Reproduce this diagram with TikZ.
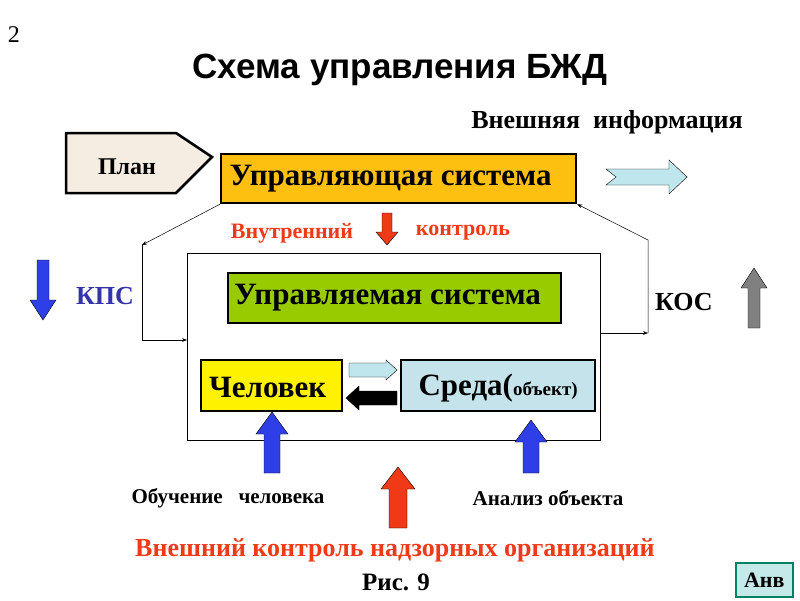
\documentclass[tikz,border=0pt]{standalone}
\usepackage{fontspec}
\setmainfont{Liberation Serif}
\newfontfamily\titlefont{Liberation Sans}
\usetikzlibrary{arrows.meta}
\definecolor{kred}{HTML}{F03A17}
\definecolor{kblue}{HTML}{2F3FE8}
\definecolor{pale}{HTML}{BFE6EC}
\tikzset{
 box/.style={draw=black,line width=2.2pt,inner sep=0pt,anchor=north west},
 lab/.style={font=\bfseries\fontsize{22}{24}\selectfont},
 big/.style={font=\bfseries\fontsize{31}{33}\selectfont},
 arrfill/.style={draw=black,line width=0.4pt,fill=#1},
 conn/.style={draw=black,line width=0.5pt,-{Stealth[length=5pt]}},
}
\newcommand\blkarr[8]{\filldraw[arrfill=#8,shift={(#1,#2)},rotate=#3] (0,-#5) -- (#4-#7,-#5) -- (#4-#7,-#6) -- (#4,0) -- (#4-#7,#6) -- (#4-#7,#5) -- (0,#5) -- cycle;}
\begin{document}
\begin{tikzpicture}[x=1pt,y=-1pt]
\useasboundingbox[fill=white] (0,0) rectangle (800,600);
\node (num) at (14,35) {\fontsize{24}{26}\selectfont 2};
\node (title) at (400,70) {\titlefont\bfseries\fontsize{35}{38}\selectfont Схема управления БЖД};
\node[lab,font=\bfseries\fontsize{26}{28}\selectfont] (ext) at (607,122) {Внешняя\ \ информация};
% plan
\filldraw[fill=brown!15!white,draw=black,line width=2.5pt] (66,133) -- (176,133) -- (212,157) -- (176,193) -- (66,193) -- cycle;
\node[lab,font=\bfseries\fontsize{24}{26}\selectfont] (plan) at (127,167) {План};
% control system
\node[box,fill={rgb,255:red,253;green,192;blue,16},minimum width=355pt,minimum height=49pt] (us) at (220,153) {};
\node[big] at (us.center) [xshift=-8pt] {Управляющая система};
\filldraw[arrfill=pale] (606,169) -- (669,169) -- (669,160) -- (687,177) -- (669,194) -- (669,185) -- (606,185) -- (616,177) -- cycle;
% internal control
\blkarr{387}{213}{-90}{32}{5}{11}{13}{kred}
\node[lab,text=kred] (vn) at (292,233) {Внутренний};
\node[lab,text=kred] (kon) at (463,233) {контроль};
% big box
\node[draw=black,line width=1.2pt,anchor=north west,minimum width=413pt,minimum height=187pt,inner sep=0pt] (bb) at (187,253) {};
\node[box,fill={rgb,255:red,153;green,204;blue,0},minimum width=333pt,minimum height=50pt] (ys) at (227,272) {};
\node[big] at (ys.center) [xshift=-7pt] {Управляемая система};
\node[box,fill=yellow,minimum width=141pt,minimum height=51pt] (ch) at (200,359) {};
\node[big] at (ch.center) [xshift=-4pt,yshift=-2pt] {Человек};
\node[box,fill={rgb,255:red,197;green,227;blue,234},minimum width=194pt,minimum height=51pt] (sr) at (400,359) {};
\node at (sr.center) [yshift=-2pt] {\bfseries\fontsize{31}{33}\selectfont Среда(\fontsize{19}{20}\selectfont объект)};
\blkarr{349}{370}{0}{48}{7}{10}{11}{pale}
\blkarr{397}{398}{180}{51}{7}{12}{13}{black}
% connectors
\coordinate (l1) at (142,245); \coordinate (l2) at (142,340);
\coordinate (r1) at (648,333); \coordinate (r2) at (648,240);
\draw[conn] (us.south west) -- (l1);
\draw[conn] (l1) -- (l2) -- (bb.west |- l2);
\draw[conn] (bb.east |- r1) -- (r1);
\draw[conn] (r1) -- (r2) -- (us.south east);
% KPS / KOS
\blkarr{43}{260}{-90}{60}{6}{13}{20}{kblue}
\node[lab,font=\bfseries\fontsize{26}{28}\selectfont,text={rgb,255:red,51;green,51;blue,170}] (kps) at (105,296) {КПС};
\node[lab,font=\bfseries\fontsize{26}{28}\selectfont] (kos) at (684,302) {КОС};
\blkarr{754}{328}{90}{60}{6}{13}{20}{gray}
% bottom arrows
\blkarr{272}{473}{90}{61}{8}{16}{22}{kblue}
\blkarr{531}{473}{90}{53}{8}{16}{22}{kblue}
\blkarr{398}{528}{90}{61}{9}{17}{22}{kred}
\node[lab,font=\bfseries\fontsize{21}{23}\selectfont] (ob) at (228,498) {Обучение\ \ \ человека};
\node[lab,font=\bfseries\fontsize{21}{23}\selectfont] (an) at (548,498) {Анализ объекта};
\node[lab,font=\bfseries\fontsize{26}{28}\selectfont,text=kred] (vk) at (395,550) {Внешний контроль надзорных организаций};
\node[lab,font=\bfseries\fontsize{25}{27}\selectfont] (ris) at (396,582) {Рис. 9};
\node[draw={rgb,255:red,0;green,128;blue,100},line width=1.5pt,fill={rgb,255:red,197;green,232;blue,232},anchor=north west,minimum width=57pt,minimum height=34pt,inner sep=0pt,lab] (anv) at (735,562) {Анв};
\end{tikzpicture}
\end{document}
